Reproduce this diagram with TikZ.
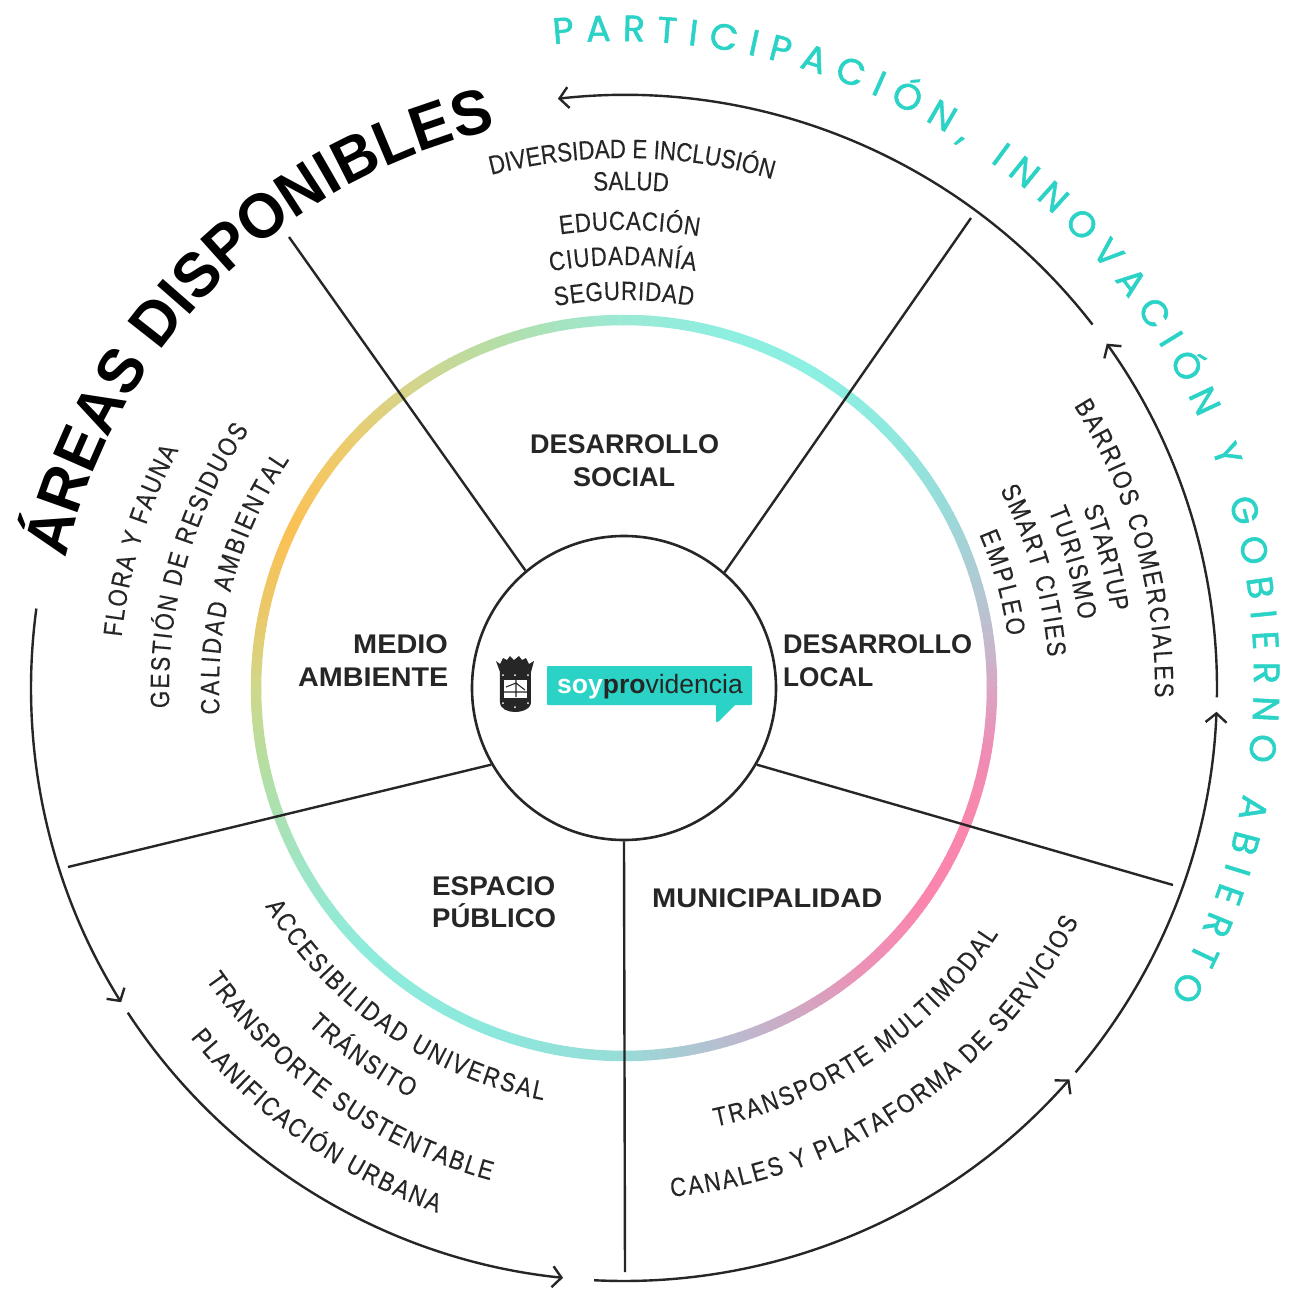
\documentclass[tikz,border=0pt]{standalone}
\usepackage{fontspec}
\setmainfont{Liberation Sans}
\newfontfamily\tealfont[FakeBold=1.4]{Poppins}
\newfontfamily\listfam[FakeStretch=0.84,FakeBold=0.2]{Liberation Sans}
\newfontfamily\areafam[FakeStretch=0.96]{Liberation Sans Bold}
\usetikzlibrary{arrows.meta,decorations.text}
\definecolor{ink}{HTML}{262626}
\definecolor{tealtxt}{HTML}{2BD3C6}
\newcommand\listfont{\fontsize{26.5}{26.5}\listfam\selectfont\color{ink}}
\newcommand\areafont{\fontsize{63}{63}\areafam\selectfont\color{black}}
\newcommand\partfont{\fontsize{36.5}{36.5}\tealfont\selectfont\color{tealtxt}}
\newcommand\labfont{\fontsize{27}{27}\selectfont\bfseries\color{ink}}
\newcommand\tarc[4]{\path[decorate,decoration={text along path,text align={fit to path},text={|\listfont|#4}}] (#2:#1) arc[start angle=#2,end angle=#3,radius=#1];}
\newcommand\flow[3]{\draw[flowline] (#1:593) arc[start angle=#1,end angle=#2,radius=593]#3;}
\tikzset{
  flowline/.style={ink,line width=2.4pt,-{Straight Barb[length=9pt,width=21pt,line width=2.4pt]}},
  spoke/.style={ink,line width=2.4pt},
  lab/.style={inner sep=0pt,font=\labfont,anchor=base west},
}
\begin{document}
\begin{tikzpicture}[x=1pt,y=1pt]
\useasboundingbox (-624,-600) rectangle (679,688);
\fill[white] (-624,-600) rectangle (679,688);
% gradient ring
\foreach \a/\b/\ha/\hb in {-180/-170/CFD88C/B8DD9D,-170/-150/B8DD9D/9EE6C8,-150/-135/9EE6C8/8EECDC,-135/-110/8EECDC/8CE8DC,-110/-90/8CE8DC/98DCD8,-90/-82/98DCD8/A8CCD4,-82/-72/A8CCD4/BCB9CF,-72/-60/BCB9CF/D5A4C0,-60/-50/D5A4C0/EC92B7,-50/-35/EC92B7/FB85AE,-35/-20/FB85AE/F887AE,-20/-10/F887AE/EF8DB4,-10/0/EF8DB4/DBA5C2,0/5/DBA5C2/C8B5CC,5/15/C8B5CC/B3C8D3,15/30/B3C8D3/98DCD9,30/45/98DCD9/8EEAE0,45/60/8EEAE0/8CF0E2,60/75/8CF0E2/8EEEDF,75/90/8EEEDF/9BE9D5,90/100/9BE9D5/A6E4C1,100/110/A6E4C1/B5DEA7,110/125/B5DEA7/D4D58D,125/140/D4D58D/EECB6C,140/155/EECB6C/FBC154,155/170/FBC154/E8CA6D,170/180/E8CA6D/CFD88C}{
  \definecolor{ca}{HTML}{\ha}\definecolor{cb}{HTML}{\hb}
  \pgfmathtruncatemacro\nseg{\b-\a}
  \foreach \i in {1,...,\nseg}{
    \pgfmathsetmacro\sa{\a+\i-1}
    \pgfmathsetmacro\ea{\a+\i+0.15}
    \pgfmathtruncatemacro\p{100*(\i-0.5)/\nseg}
    \draw[cb!\p!ca,line width=10.5pt] (\sa:368) arc[start angle=\sa,end angle=\ea,radius=368];
  }
}
% hub and spokes
\node[circle,draw=ink,line width=2.6pt,minimum size=304pt,inner sep=0pt] (hub) at (0,0) {};
\begin{scope}[x=1pt,y=-1pt,shift={(-624,-688)}]
\coordinate (s1) at (289,237);
\coordinate (s2) at (971,218);
\coordinate (s3) at (1173,885);
\coordinate (s4) at (625,1272);
\coordinate (s5) at (68,867);
\draw[spoke] (hub.130.8) -- (s1);
\draw[spoke] (hub.49.8) -- (s2);
\draw[spoke] (hub.-30.4) -- (s3);
\draw[spoke] (hub.-90.4) -- (s4);
\draw[spoke] (hub.210.7) -- (s5);
% category labels
\node[lab] (dsa) at (530,453) {DESARROLLO};
\node[lab] (dsb) at (573,486) {SOCIAL};
\node[lab] (maa) at (353,653) {\scalebox{1.07}[1]{MEDIO}};
\node[lab] (mab) at (298,686) {\scalebox{1.065}[1]{AMBIENTE}};
\node[lab] (dla) at (783,653) {DESARROLLO};
\node[lab] (dlb) at (783,686) {\scalebox{0.97}[1]{LOCAL}};
\node[lab] (epa) at (432,895) {\scalebox{1.03}[1]{ESPACIO}};
\node[lab] (epb) at (432,927) {\scalebox{1.02}[1]{PÚBLICO}};
\node[lab] (mun) at (652,907) {\scalebox{1.075}[1]{MUNICIPALIDAD}};
% logo
\fill[tealtxt,rounded corners=0.8pt] (547,666) -- (752,666) -- (752,705) -- (735,705) -- (718,722) -- (716,722) -- (716,705) -- (547,705) -- cycle;
\node[inner sep=0pt,anchor=base west,font=\fontsize{26.5}{26.5}\selectfont,text=ink] (logo) at (557,693) {{\color{white}\bfseries soy}{\bfseries pro}videncia};
% shield
\fill[ink] (496,661) -- (500,664) -- (503,658) -- (507,660) -- (510,656) -- (514,660) -- (519,656) -- (522,660) -- (526,658) -- (529,664) -- (534,661) -- (531,672) -- (531,702) .. controls (531,709) and (522,712) .. (515,712) .. controls (508,712) and (500,709) .. (500,702) -- (500,672) -- cycle;
\fill[white] (504,680) -- (527,680) -- (527,698) -- (504,698) -- cycle;
\draw[ink,line width=1.1pt] (504,692) -- (527,692) (516,680) -- (516,697) (506,687) -- (516,683) -- (525,690);
\fill[white] (503,675) circle (1pt) (515,675) circle (1pt) (528,675) circle (1pt) (503,703) circle (1pt) (528,703) circle (1pt) (515,707) circle (1pt);
\end{scope}
% outer flow arcs
\flow{37.8}{96.4}{}
\flow{-0.9}{35.5}{}
\flow{-40.4}{-2.3}{}
\flow{-92.9}{-41.3}{}
\flow{213.2}{264.1}{}
\flow{172.3}{212}{}
% section item lists, top
\tarc{530}{104.5}{73.8}{DIVERSIDAD E INCLUSIÓN}
\tarc{498}{93.5}{84.9}{SALUD}
\tarc{458}{98}{80.6}{EDUCACIÓN}
\tarc{423}{100}{80.3}{CIUDADANÍA}
\tarc{388}{100.2}{79.8}{SEGURIDAD}
% left
\tarc{505}{174.2}{151.9}{FLORA Y FAUNA}
\tarc{455}{182.5}{145.5}{GESTIÓN DE RESIDUOS}
\tarc{405}{183.7}{145.7}{CALIDAD AMBIENTAL}
% right
\tarc{531}{32.1}{-1}{BARRIOS COMERCIALES}
\tarc{493}{21.4}{8.9}{STARTUP}
\tarc{460}{22.7}{8.5}{TURISMO}
\tarc{425}{27.8}{4.2}{SMART CITIES}
\tarc{387}{23.4}{7.7}{EMPLEO}
% bottom left
\tarc{420}{211.3}{258.9}{ACCESIBILIDAD UNIVERSAL}
\tarc{462}{226.8}{242.5}{TRÁNSITO}
\tarc{510}{214.9}{254.8}{TRANSPORTE SUSTENTABLE}
\tarc{557}{218.9}{250.4}{PLANIFICACIÓN URBANA}
% bottom right
\tarc{448}{-78.2}{-33.3}{TRANSPORTE MULTIMODAL}
\tarc{511}{-84.7}{-27.2}{CANALES Y PLATAFORMA DE SERVICIOS}
% titles
\path[decorate,decoration={text along path,text align={fit to path},text={|\areafont|ÁREAS DISPONIBLES}}] (167:573) arc[start angle=167,end angle=102.9,radius=573];
\path[decorate,decoration={text along path,text align={fit to path},text={|\partfont|PARTICIPACIÓN, INNOVACIÓN Y GOBIERNO ABIERTO}}] (-7,10) ++(95.7:637) arc[start angle=95.7,end angle=-29.8,radius=637];
\end{tikzpicture}
\end{document}
